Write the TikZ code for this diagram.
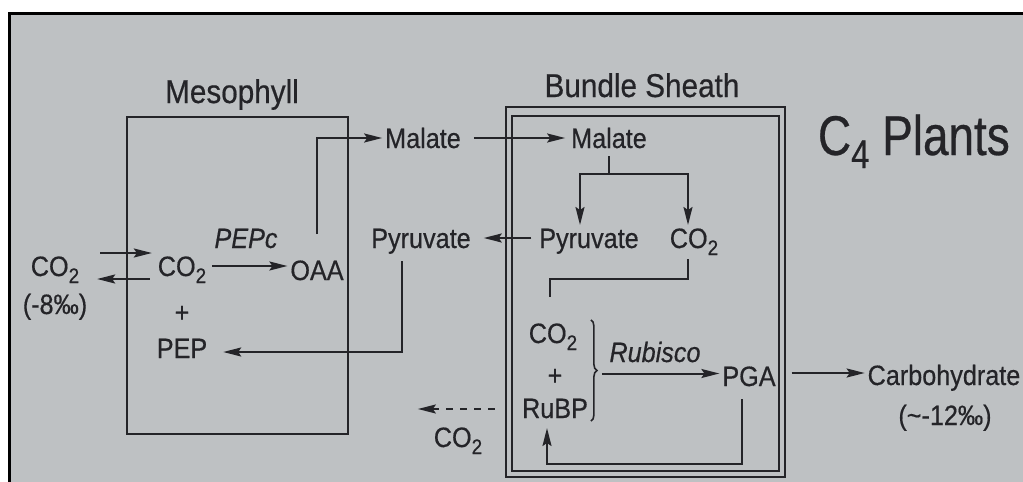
\documentclass[tikz,border=0pt]{standalone}
\usepackage{fontspec}
\setmainfont{Liberation Sans}[FakeStretch=0.9,FakeBold=0.5]
\newfontfamily\titlefont{Liberation Sans}[FakeStretch=0.82,FakeBold=0.5]
\usetikzlibrary{arrows.meta,decorations.pathreplacing}
\definecolor{page}{RGB}{190,193,195}
\definecolor{ink}{RGB}{36,36,40}
\newcommand\subtwo{\raisebox{-7pt}{\fontsize{21}{21}\selectfont 2}}
\begin{document}
\begin{tikzpicture}[x=1pt,y=-1pt,line width=2pt,color=ink,
  lbl/.style={inner sep=2pt,text height=20pt,text depth=0pt,font=\fontsize{28}{32}\selectfont},
  head/.style={inner sep=2pt,text height=24pt,text depth=0pt,font=\fontsize{33}{38}\selectfont},
  cell/.style={draw,line width=2.4pt,inner sep=0pt},
  arr/.style={-{Stealth[length=18pt,width=9pt,inset=3pt]}}]
 \useasboundingbox (0,0) rectangle (1023,482);
 \fill[white] (0,0) rectangle (1023,482);
 \fill[page] (9,13) rectangle (1023,482);
 \draw[black,line width=3pt] (9,482) -- (9,13) -- (1023,13);
 \node[cell,minimum width=221pt,minimum height=317pt] (meso) at (237.5,275.5) {};
 \node[cell,minimum width=279pt,minimum height=370pt] (bsout) at (645.5,292) {};
 \node[cell,minimum width=267pt,minimum height=355pt] (bsin) at (645.5,293.5) {};
 \node[head] (mesolbl) at (232,91) {Mesophyll};
 \node[head] (bslbl) at (642,85) {Bundle Sheath};
 \node[anchor=base west,inner sep=0pt,font=\titlefont\fontsize{56}{60}\selectfont] (title) at (817,155)
   {C\raisebox{-13pt}{\fontsize{40}{40}\selectfont 4} Plants};
 \node[lbl] (co2out) at (55,266) {CO\subtwo};
 \node[lbl] (pmout) at (55,304) {(-8‰)};
 \node[lbl] (co2in) at (182,266) {CO\subtwo};
 \node[lbl] (plusa) at (182,312) {+};
 \node[lbl] (pep) at (182,348) {PEP};
 \node[lbl] (pepc) at (246,238) {\itshape PEPc};
 \node[lbl] (oaa) at (317,270) {OAA};
 \node[lbl] (malm) at (423,138) {Malate};
 \node[lbl] (malb) at (609,138) {Malate};
 \node[lbl] (pyrm) at (421,238) {Pyruvate};
 \node[lbl] (pyrb) at (589,238) {Pyruvate};
 \node[lbl] (co2bs) at (694,238) {CO\subtwo};
 \node[lbl] (co2rb) at (553,333) {CO\subtwo};
 \node[lbl] (plusb) at (555,375) {+};
 \node[lbl] (rubp) at (555,408) {RuBP};
 \node[lbl] (rubisco) at (655,352) {\itshape Rubisco};
 \node[lbl] (pga) at (749,376) {PGA};
 \node[lbl] (carb) at (944,375) {Carbohydrate};
 \node[lbl] (pmcarb) at (945,415) {(\textasciitilde-12‰)};
 \node[lbl] (co2lost) at (458,437) {CO\subtwo};
 \draw[arr] ([xshift=18pt,yshift=13pt]co2out.east) -- ([xshift=-3pt,yshift=13pt]co2in.west);
 \draw[arr] ([xshift=-5pt,yshift=-13pt]co2in.west) -- ([xshift=15pt,yshift=-13pt]co2out.east);
 \draw[arr] ([xshift=3pt]co2in.east) -- (co2in.east -| oaa.west);
 \draw[arr] ([yshift=23pt]oaa.north) |- (malm.west);
 \draw[arr] ([xshift=10pt]malm.east) -- ([xshift=-3pt]malb.west);
 \coordinate (fork) at ([yshift=-23pt]malb.south);
 \draw ([yshift=-5pt]malb.south) -- (fork);
 \draw[arr] (fork) -| ([xshift=-9pt]pyrb.north);
 \draw[arr] (fork) -| ([xshift=-6pt]co2bs.north);
 \draw[arr] ([xshift=-5pt]pyrb.west) -- ([xshift=10pt]pyrm.east);
 \draw[arr] ([xshift=-19pt,yshift=-10pt]pyrm.south) |- ([xshift=13pt,yshift=-4pt]pep.east);
 \draw ([xshift=-6pt,yshift=-8pt]co2bs.south) -- ++(0,20) -| ([xshift=-3pt,yshift=23pt]co2rb.north);
 \coordinate (bt) at (rubp.east |- co2rb.north);
 \coordinate (bb) at (rubp.south east);
 \draw[line width=1.6pt,decorate,decoration={brace,amplitude=6pt}] (bt) -- (bb);
 \path (bt) -- (bb) coordinate[midway] (bm);
 \coordinate (rubarr) at ([xshift=11pt,yshift=-3pt]bm);
 \draw[arr] (rubarr) -- (rubarr -| pga.west);
 \draw[arr] ([xshift=13pt,yshift=3pt]pga.east) -- ([yshift=3pt]pga.east -| carb.west);
 \draw[arr] ([xshift=-7pt,yshift=-10pt]pga.south) -- ++(0,65) -| ([xshift=-8pt,yshift=-7pt]rubp.south);
 \coordinate (lossa) at ([yshift=15pt]co2lost.north -| bsout.west);
 \draw[arr,dash pattern=on 7pt off 7pt] ([xshift=-10pt]lossa) -- ([xshift=-13pt]lossa -| co2lost.west);
\end{tikzpicture}
\end{document}
